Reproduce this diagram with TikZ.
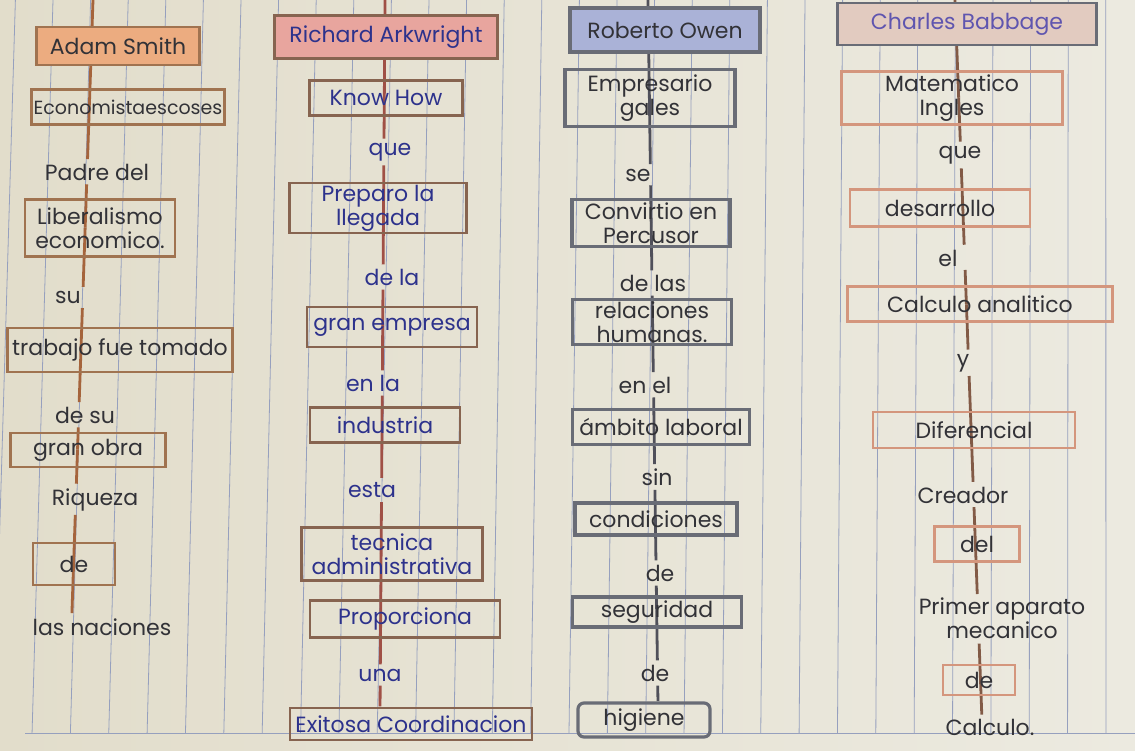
\documentclass[tikz,border=0pt]{standalone}
\usepackage{fontspec}
\setmainfont{Poppins}
\usetikzlibrary{positioning, backgrounds, calc}

\definecolor{paperL}{RGB}{226,221,203}
\definecolor{paperR}{RGB}{236,234,224}
\definecolor{rulecol}{RGB}{150,160,190}
\definecolor{inkdark}{RGB}{50,50,55}
\definecolor{inkblue}{RGB}{45,50,140}
\definecolor{inkviolet}{RGB}{95,85,175}
\definecolor{smithline}{RGB}{160,115,80}
\definecolor{smithfill}{RGB}{236,172,128}
\definecolor{smithlink}{RGB}{165,100,60}
\definecolor{arkline}{RGB}{135,100,80}
\definecolor{arkfill}{RGB}{232,165,158}
\definecolor{arklink}{RGB}{160,80,70}
\definecolor{owenline}{RGB}{105,108,118}
\definecolor{owenfill}{RGB}{170,178,215}
\definecolor{owenlink}{RGB}{80,80,90}
\definecolor{babline}{RGB}{212,150,125}
\definecolor{babfill}{RGB}{226,203,192}
\definecolor{bablink}{RGB}{130,90,70}

\begin{document}
\begin{tikzpicture}[
    x=0.5pt, y=-0.5pt,
    font=\fontsize{11}{12}\selectfont,
    word/.style = {inner sep=2pt, align=center, text=inkdark},
    smithbox/.style = {
        draw=smithline, line width=1.3pt, align=center,
        inner sep=1pt, text=inkdark
    },
    arkbox/.style = {
        draw=arkline, line width=1.3pt, align=center,
        inner sep=1pt, text=inkblue
    },
    owenbox/.style = {
        draw=owenline, line width=1.6pt, align=center,
        inner sep=1pt, text=inkdark
    },
    babbox/.style = {
        draw=babline, line width=1.3pt, align=center,
        inner sep=1pt, text=inkdark
    },
    link/.style = {line width=1.4pt},
    ruleline/.style = {draw=rulecol, line width=0.4pt}
]
\useasboundingbox (0,0) rectangle (1135,750);

% ---- Paper ----
\begin{scope}[on background layer]
  \shade[left color=paperL, right color=paperR] (0,0) rectangle (1135,750);
  \foreach \k in {-1,...,29}{
    \pgfmathsetmacro{\xt}{53+37.6*\k}
    \pgfmathsetmacro{\xb}{\xt-22+0.02*\xt}
    \draw[ruleline] (\xt,0) -- (\xb,733);
  }
  \draw[ruleline] (25,733) -- (1135,733);
\end{scope}

% ---- Column lines (ends) ----
\coordinate (smithtop) at (93,0);
\coordinate (smithbot) at (72,610);
\coordinate (arktop) at (385,0);
\coordinate (arkbot) at (380,710);
\coordinate (owentop) at (648,0);
\coordinate (owenbot) at (658,705);
\coordinate (babtop) at (955,0);
\coordinate (babbot) at (982,720);

% ---- Adam Smith column ----
\node[smithbox, fill=smithfill, minimum width=81.5pt, minimum height=19pt] (smith) at (118,46) {Adam Smith};
\node[smithbox, minimum width=94.5pt, minimum height=17.5pt, font=\fontsize{9.5}{11}\selectfont] (econ) at (128,107) {Economistaescoses};
\node[word] (padre) at (97,172) {Padre del};
\node[smithbox, minimum width=75pt, minimum height=28.5pt] (liberal) at (100,228) {Liberalismo\\economico.};
\node[word] (su) at (68,297) {su};
\node[smithbox, minimum width=112.5pt, minimum height=22pt] (trabajo) at (120,350) {trabajo fue tomado};
\node[word] (desu) at (85,415) {de su};
\node[smithbox, minimum width=77.5pt, minimum height=17pt] (obra) at (88,450) {gran obra};
\node[word] (riqueza) at (95,500) {Riqueza};
\node[smithbox, minimum width=41pt, minimum height=21pt] (deA) at (74,564) {de};
\node[word] (naciones) at (102,627) {las naciones};

% ---- Richard Arkwright column ----
\node[arkbox, fill=arkfill, minimum width=111.5pt, minimum height=21.5pt] (ark) at (386,37) {Richard Arkwright};
\node[arkbox, minimum width=76.5pt, minimum height=17.5pt] (know) at (386,98) {Know How};
\node[word, text=inkblue] (queA) at (390,152) {que};
\node[arkbox, minimum width=88.5pt, minimum height=22.5pt] (preparo) at (378,208) {Preparo la\\llegada};
\node[word, text=inkblue] (dela) at (392,277) {de la};
\node[arkbox, minimum width=85pt, minimum height=20pt] (empresa) at (392,327) {gran empresa};
\node[word, text=inkblue] (enla) at (373,383) {en la};
\node[arkbox, minimum width=75pt, minimum height=17.5pt] (industria) at (385,425) {industria};
\node[word, text=inkblue] (esta) at (372,490) {esta};
\node[arkbox, minimum width=90.5pt, minimum height=26.5pt] (tecnica) at (392,554) {tecnica\\administrativa};
\node[arkbox, minimum width=95pt, minimum height=18.5pt] (proporciona) at (405,619) {Proporciona};
\node[word, text=inkblue] (una) at (380,675) {una};
\node[arkbox, minimum width=121pt, minimum height=16pt] (exitosa) at (411,724) {Exitosa Coordinacion};

% ---- Roberto Owen column ----
\node[owenbox, fill=owenfill, minimum width=95pt, minimum height=22pt] (owen) at (665,30) {Roberto Owen};
\node[owenbox, minimum width=85pt, minimum height=28.5pt] (empresario) at (650,98) {Empresario\\gales};
\node[word] (se) at (638,175) {se};
\node[owenbox, minimum width=79pt, minimum height=23.5pt] (convirtio) at (651,223) {Convirtio en\\Percusor};
\node[word] (delas) at (653,283) {de las};
\node[owenbox, minimum width=79.5pt, minimum height=20.5pt] (relaciones) at (652,322) {relaciones\\humanas.};
\node[word] (enel) at (645,385) {en el};
\node[owenbox, minimum width=88.5pt, minimum height=17.5pt] (ambito) at (661,427) {ámbito laboral};
\node[word] (sin) at (657,477) {sin};
\node[owenbox, minimum width=81pt, minimum height=16pt] (condiciones) at (656,519) {condiciones};
\node[word] (deB) at (660,573) {de};
\node[owenbox, minimum width=84.5pt, minimum height=15pt] (seguridad) at (657,612) {seguridad};
\node[word] (deC) at (655,673) {de};
\node[owenbox, rounded corners=3pt, minimum width=66pt, minimum height=17pt] (higiene) at (644,720) {higiene};

% ---- Charles Babbage column ----
\node[babbox, draw=owenline, fill=babfill, text=inkviolet, minimum width=129.5pt, minimum height=21pt] (babbage) at (967,24) {Charles Babbage};
\node[babbox, minimum width=110.5pt, minimum height=26.5pt] (matematico) at (952,98) {Matematico\\Ingles};
\node[word] (queB) at (960,155) {que};
\node[babbox, minimum width=90pt, minimum height=18.5pt] (desarrollo) at (940,208) {desarrollo};
\node[word] (el) at (948,258) {el};
\node[babbox, minimum width=132.5pt, minimum height=17.5pt] (analitico) at (980,304) {Calculo analitico};
\node[word] (y) at (963,363) {y};
\node[babbox, minimum width=101pt, minimum height=18pt] (diferencial) at (974,430) {Diferencial};
\node[word] (creador) at (963,495) {Creador};
\node[babbox, minimum width=42.5pt, minimum height=17.5pt] (del) at (977,544) {del};
\node[word] (primer) at (1002,618) {Primer aparato\\mecanico};
\node[babbox, minimum width=36pt, minimum height=15pt] (deD) at (979,680) {de};
\node[word] (calculo) at (990,727) {Calculo.};

% ---- Connectors (kept on the column line, behind the text) ----
\begin{scope}[on background layer]
\foreach \a/\b in {smithtop/smith.center, smith.center/econ.center,
    econ.center/padre.north, padre.south/liberal.center,
    liberal.center/su.north, su.south/trabajo.center,
    trabajo.center/desu.north, desu.south/obra.center,
    obra.center/riqueza.north, riqueza.south/deA.center,
    deA.center/naciones.north}
  \draw[link, smithlink] ($(smithtop)!(\a)!(smithbot)$) -- ($(smithtop)!(\b)!(smithbot)$);

\foreach \a/\b in {arktop/ark.center, ark.center/know.center,
    know.center/queA.north, queA.south/preparo.center,
    preparo.center/dela.north, dela.south/empresa.center,
    empresa.center/enla.north, enla.south/industria.center,
    industria.center/esta.north, esta.south/tecnica.center,
    tecnica.center/proporciona.center, proporciona.center/una.north,
    una.south/exitosa.north}
  \draw[link, arklink] ($(arktop)!(\a)!(arkbot)$) -- ($(arktop)!(\b)!(arkbot)$);

\foreach \a/\b in {owentop/owen.center, owen.center/empresario.center,
    empresario.center/se.north, se.south/convirtio.center,
    convirtio.center/delas.north, delas.south/relaciones.center,
    relaciones.center/enel.north, enel.south/ambito.center,
    ambito.center/sin.north, sin.south/condiciones.center,
    condiciones.center/deB.north, deB.south/seguridad.center,
    seguridad.center/deC.north, deC.south/higiene.north}
  \draw[link, owenlink] ($(owentop)!(\a)!(owenbot)$) -- ($(owentop)!(\b)!(owenbot)$);

\foreach \a/\b in {babtop/babbage.center, babbage.center/matematico.center,
    matematico.center/queB.north, queB.south/desarrollo.center,
    desarrollo.center/el.north, el.south/analitico.center,
    analitico.center/y.north, y.south/diferencial.center,
    diferencial.center/creador.north, creador.south/del.center,
    del.center/primer.north, primer.south/deD.center,
    deD.center/calculo.north}
  \draw[link, bablink] ($(babtop)!(\a)!(babbot)$) -- ($(babtop)!(\b)!(babbot)$);
\end{scope}

\end{tikzpicture}
\end{document}
